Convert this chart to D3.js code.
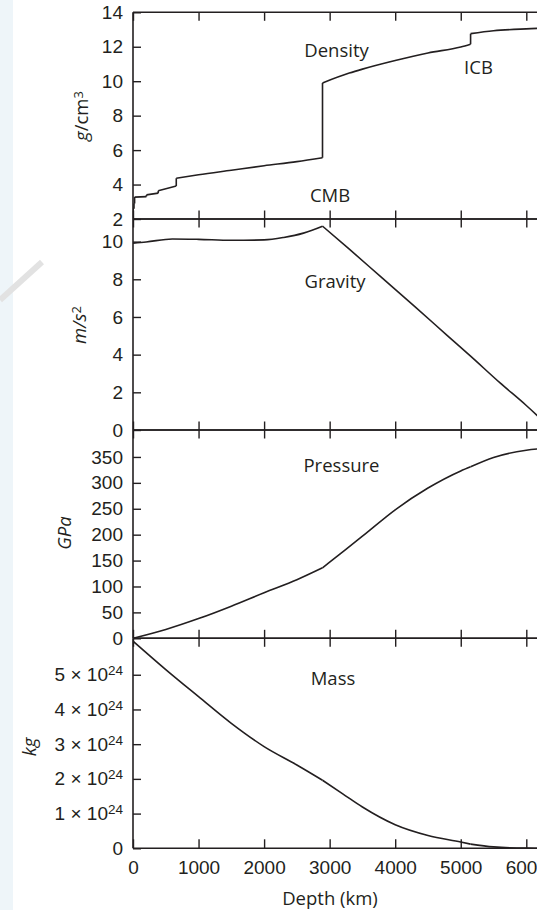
<!DOCTYPE html>
<html><head><meta charset="utf-8">
<script src="https://cdn.jsdelivr.net/npm/d3@7"></script>
<style>
body{margin:0;background:#fff;}
svg{display:block;font-family:"Open Sans","Noto Sans",sans-serif;}
</style>
</head><body>
<svg id="chart" width="537" height="910"></svg>
<script>
// ---------- data ----------
const depthTickValues = [0, 1000, 2000, 3000, 4000, 5000, 6000];

const densityDepth = [0, 3, 3, 15, 15, 24.4, 24.4, 205, 205, 385, 385, 660, 660, 1000, 1500, 2000, 2500, 2891, 2891, 3300, 3500, 4000, 4500, 5000, 5150, 5150, 5500, 6000, 6371];
const densityValue = [1.02, 1.02, 2.6, 2.6, 2.9, 2.9, 3.27, 3.30, 3.40, 3.50, 3.64, 3.92, 4.37, 4.57, 4.83, 5.09, 5.33, 5.56, 9.90, 10.47, 10.70, 11.20, 11.64, 11.99, 12.15, 12.76, 12.93, 13.04, 13.09];

const gravityDepth = [0, 200, 600, 1000, 1500, 2000, 2300, 2600, 2891, 3300, 3800, 4300, 4800, 5150, 5600, 6000, 6371];
const gravityValue = [9.92, 9.98, 10.14, 10.12, 10.07, 10.09, 10.22, 10.45, 10.82, 9.60, 8.07, 6.55, 5.00, 3.92, 2.50, 1.30, 0.10];

const pressureDepth = [0, 500, 1000, 1500, 2000, 2500, 2891, 3000, 3500, 4000, 4500, 5000, 5150, 5500, 6000, 6371];
const pressureValue = [0, 17, 38, 62, 88, 113, 136, 147, 197, 248, 290, 323, 331, 349, 363, 367];

const massDepth = [0, 500, 1000, 1500, 2000, 2500, 2891, 3200, 3500, 4000, 4500, 5000, 5150, 5500, 6000, 6371];
const massValue = [5.97, 5.15, 4.37, 3.60, 2.93, 2.40, 1.96, 1.57, 1.19, 0.68, 0.37, 0.18, 0.12, 0.04, 0.004, 0]; // ×10^24 kg

const densityTicks = [2, 4, 6, 8, 10, 12, 14];
const gravityTicks = [0, 2, 4, 6, 8, 10];
const pressureTicks = [0, 50, 100, 150, 200, 250, 300, 350];
const massTicks = [0, 1, 2, 3, 4, 5];
const massExponent = "24";

// ---------- layout ----------
const svg = d3.select("#chart");
const ink = "#231f20";
const tickFont = 19;
const left = 133;
const x = d3.scaleLinear().domain([0, 6371]).range([left, left + 6371 * 0.06555]);
const right = x(6371);

// faint watermark remnants on the left edge
svg.append("rect").attr("x", 0).attr("y", 0).attr("width", 13).attr("height", 910).attr("fill", "#eef5f9");
svg.append("line").attr("x1", 0).attr("y1", 300).attr("x2", 42).attr("y2", 262)
  .attr("stroke", "#e2e2e2").attr("stroke-width", 6);

const panels = [
  {depths: densityDepth, values: densityValue, domain: [2, 14], ticks: densityTicks, top: 12.3, bottom: 219, kinks: []},
  {depths: gravityDepth, values: gravityValue, domain: [0, 11.2], ticks: gravityTicks, top: 219, bottom: 430, kinks: [2891]},
  {depths: pressureDepth, values: pressureValue, domain: [0, 402], ticks: pressureTicks, top: 430, bottom: 638.3, kinks: [2891, 5150]},
  {depths: massDepth, values: massValue, domain: [0, 6.05], ticks: massTicks, top: 638.3, bottom: 848.3, kinks: [2891, 5150], mass: true}
];

panels.forEach((p, i) => {
  const y = d3.scaleLinear().domain(p.domain).range([p.bottom, p.top]);
  const g = svg.append("g");
  const clipId = "clip" + i;
  svg.append("clipPath").attr("id", clipId).append("rect")
    .attr("x", left).attr("y", p.top).attr("width", right - left).attr("height", p.bottom - p.top);

  // data line split into runs at vertical steps and kinks
  const pts = p.depths.map((d, k) => [d, p.values[k]]);
  const runs = [];
  let cur = [pts[0]];
  for (let k = 1; k < pts.length; k++) {
    if (pts[k][0] === pts[k - 1][0]) {
      runs.push({pts: cur, curve: true});
      runs.push({pts: [pts[k - 1], pts[k]], curve: false});
      cur = [pts[k]];
    } else {
      cur.push(pts[k]);
      if (p.kinks.includes(pts[k][0])) { runs.push({pts: cur, curve: true}); cur = [pts[k]]; }
    }
  }
  runs.push({pts: cur, curve: true});
  const lineC = d3.line().x(d => x(d[0])).y(d => y(d[1])).curve(d3.curveMonotoneX);
  const lineL = d3.line().x(d => x(d[0])).y(d => y(d[1]));
  const lg = g.append("g").attr("clip-path", `url(#${clipId})`);
  runs.filter(r => r.pts.length > 1).forEach(r => {
    lg.append("path").attr("d", (r.curve ? lineC : lineL)(r.pts))
      .attr("fill", "none").attr("stroke", ink).attr("stroke-width", 1.6).attr("stroke-linejoin", "miter");
  });

  // y axis (inward ticks)
  const ya = d3.axisLeft(y).tickValues(p.ticks).tickSize(-8).tickPadding(10).tickFormat(d => d);
  const yg = g.append("g").attr("transform", `translate(${left},0)`).call(ya);
  yg.select(".domain").remove();
  yg.selectAll("line").attr("stroke", ink).attr("stroke-width", 1.4);
  yg.selectAll("text").attr("font-size", tickFont).attr("fill", ink).attr("font-family", null);
  if (p.mass) {
    yg.selectAll("text").each(function(d) {
      if (d === 0) return;
      const t = d3.select(this).text(null);
      t.append("tspan").text(d + " × 10");
      t.append("tspan").attr("dy", "-0.45em").attr("font-size", 13.5).text(massExponent);
    });
  }

  // top and bottom x ticks (inward)
  const xt = g.append("g").attr("transform", `translate(0,${p.top})`)
    .call(d3.axisBottom(x).tickValues(depthTickValues).tickSize(8.5).tickFormat(""));
  xt.select(".domain").remove();
  const xbAxis = i === 3
    ? d3.axisBottom(x).tickValues(depthTickValues).tickSize(-9).tickPadding(12).tickFormat(d => d)
    : d3.axisTop(x).tickValues(depthTickValues).tickSize(8.5).tickFormat("");
  const xb = g.append("g").attr("transform", `translate(0,${p.bottom})`).call(xbAxis);
  xb.select(".domain").remove();
  g.selectAll("g.tick line").attr("stroke", ink).attr("stroke-width", 1.4);
  xb.selectAll("text").attr("font-size", tickFont).attr("fill", ink).attr("font-family", null);

  // border lines
  g.append("line").attr("x1", left).attr("x2", right).attr("y1", p.top).attr("y2", p.top)
    .attr("stroke", ink).attr("stroke-width", 1.6);
  g.append("line").attr("x1", left).attr("x2", right).attr("y1", p.bottom).attr("y2", p.bottom)
    .attr("stroke", ink).attr("stroke-width", 1.6);
  g.append("line").attr("x1", left).attr("x2", left).attr("y1", p.top).attr("y2", p.bottom)
    .attr("stroke", ink).attr("stroke-width", 1.6);
});

// unit labels (rotated)
function unitLabel(cx, cy, parts) {
  const t = svg.append("text").attr("transform", `translate(${cx},${cy}) rotate(-90)`)
    .attr("text-anchor", "middle").attr("dy", "0.35em").attr("font-size", 18.5).attr("fill", ink);
  parts.forEach(pt => {
    const s = t.append("tspan").text(pt.t);
    if (pt.i) s.attr("font-style", "italic");
    if (pt.sup) s.attr("dy", "-0.45em").attr("font-size", 13);
  });
}
unitLabel(82, 116, [{t: "g", i: true}, {t: "/cm"}, {t: "3", sup: true}]);
unitLabel(80, 325, [{t: "m/s", i: true}, {t: "2", sup: true}]);
unitLabel(64.5, 533, [{t: "GPa", i: true}]);
unitLabel(29.5, 747, [{t: "kg", i: true}]);

// curve annotations
const notes = [
  {t: "Density", x: 336.5, y: 56.5},
  {t: "ICB", x: 478.5, y: 74},
  {t: "CMB", x: 330, y: 201.5},
  {t: "Gravity", x: 335, y: 288},
  {t: "Pressure", x: 341.5, y: 472},
  {t: "Mass", x: 333, y: 685},
  {t: "Depth (km)", x: 330, y: 904.5}
];
svg.selectAll("text.note").data(notes).join("text").attr("class", "note")
  .attr("x", d => d.x).attr("y", d => d.y).attr("text-anchor", "middle")
  .attr("font-size", 18.5).attr("fill", ink).text(d => d.t);
</script>
</body></html>
